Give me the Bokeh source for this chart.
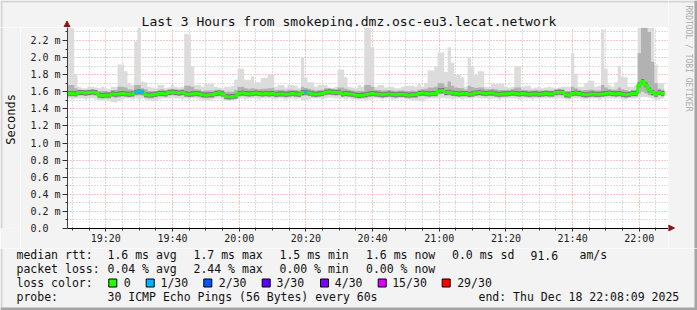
import datetime as dt
from bokeh.plotting import figure
from bokeh.layouts import row, column
from bokeh.models import Range1d, FixedTicker, CustomJSTickFormatter
from bokeh.core.properties import value
from bokeh.embed import file_html
from bokeh.resources import INLINE

# ---------------- data (ms), one value per minute starting 19:08:30 ----------------
median = [
    1.58, 1.58, 1.575, 1.59, 1.59, 1.585, 1.59, 1.595, 1.59, 1.56,
    1.555, 1.56, 1.56, 1.575, 1.57, 1.575, 1.58, 1.575, 1.57, 1.575,
    1.595, 1.6, 1.595, 1.565, 1.56, 1.565, 1.57, 1.58, 1.58, 1.575,
    1.59, 1.595, 1.59, 1.585, 1.59, 1.575, 1.57, 1.575, 1.58, 1.575,
    1.565, 1.56, 1.565, 1.565, 1.58, 1.585, 1.575, 1.545, 1.54, 1.545,
    1.55, 1.58, 1.585, 1.58, 1.575, 1.58, 1.585, 1.58, 1.575, 1.58,
    1.575, 1.58, 1.57, 1.575, 1.575, 1.57, 1.575, 1.58, 1.575, 1.57,
    1.59, 1.595, 1.585, 1.575, 1.57, 1.575, 1.58, 1.595, 1.6, 1.595,
    1.59, 1.595, 1.575, 1.58, 1.575, 1.57, 1.56, 1.555, 1.56, 1.565,
    1.575, 1.58, 1.575, 1.57, 1.565, 1.57, 1.575, 1.57, 1.565, 1.57,
    1.57, 1.565, 1.56, 1.565, 1.565, 1.58, 1.585, 1.58, 1.575, 1.58,
    1.58, 1.61, 1.615, 1.59, 1.595, 1.585, 1.58, 1.575, 1.58, 1.58,
    1.57, 1.575, 1.585, 1.59, 1.585, 1.58, 1.585, 1.585, 1.575, 1.57,
    1.575, 1.575, 1.58, 1.585, 1.58, 1.575, 1.58, 1.575, 1.57, 1.575,
    1.575, 1.57, 1.575, 1.58, 1.575, 1.575, 1.59, 1.595, 1.59, 1.565,
    1.56, 1.58, 1.585, 1.58, 1.57, 1.565, 1.57, 1.575, 1.57, 1.57,
    1.575, 1.58, 1.585, 1.58, 1.575, 1.58, 1.57, 1.565, 1.57, 1.58,
    1.58, 1.68, 1.72, 1.68, 1.62, 1.59, 1.57, 1.59, 1.58,
]
ping_max = [
    2.35, 2.35, 1.81, 1.66, 1.64, 1.64, 1.66, 1.66, 1.65, 1.64,
    1.66, 1.64, 1.63, 1.66, 1.66, 1.92, 1.92, 1.84, 1.70, 1.68,
    2.19, 2.35, 1.72, 1.71, 1.66, 1.65, 1.64, 1.68, 1.68, 1.64,
    1.65, 1.68, 1.66, 1.65, 1.66, 2.28, 2.27, 1.90, 1.68, 1.68,
    1.66, 1.69, 1.69, 1.69, 1.66, 1.65, 1.64, 1.66, 1.66, 1.67,
    1.74, 1.87, 1.87, 1.74, 1.74, 1.78, 1.71, 1.71, 1.76, 1.76,
    1.80, 1.80, 1.66, 1.68, 1.68, 1.65, 1.68, 1.68, 1.67, 1.64,
    2.00, 1.77, 1.71, 1.71, 1.66, 1.68, 1.68, 1.68, 1.65, 1.64,
    1.66, 1.86, 1.86, 1.77, 1.66, 1.65, 1.64, 1.68, 1.66, 2.35,
    2.35, 2.12, 1.66, 1.68, 1.68, 1.65, 1.66, 1.66, 1.64, 1.64,
    1.66, 1.67, 1.67, 1.67, 1.66, 1.69, 1.66, 1.70, 1.85, 1.85,
    1.90, 2.06, 2.06, 1.83, 2.12, 1.94, 1.80, 1.80, 1.77, 1.66,
    2.00, 1.90, 1.80, 1.84, 1.84, 1.66, 1.66, 1.69, 1.69, 1.69,
    1.69, 1.66, 1.65, 1.66, 1.90, 1.90, 1.66, 1.67, 1.67, 1.64,
    1.65, 1.66, 1.64, 1.65, 1.66, 1.65, 1.64, 1.65, 1.66, 1.66,
    1.66, 2.05, 1.81, 1.66, 1.66, 1.70, 1.73, 1.73, 1.66, 1.67,
    2.33, 1.87, 1.68, 1.66, 1.71, 1.90, 1.78, 1.77, 1.66, 1.66,
    1.68, 2.35, 2.35, 2.35, 2.35, 2.35, 1.92, 1.70, 1.70,
]
ping_min = [
    1.52, 1.51, 1.52, 1.52, 1.52, 1.51, 1.52, 1.52, 1.51, 1.50,
    1.50, 1.50, 1.49, 1.48, 1.475, 1.49, 1.51, 1.52, 1.52, 1.51,
    1.52, 1.51, 1.52, 1.51, 1.50, 1.49, 1.49, 1.51, 1.52, 1.52,
    1.52, 1.53, 1.52, 1.52, 1.51, 1.52, 1.51, 1.52, 1.52, 1.51,
    1.50, 1.50, 1.50, 1.51, 1.52, 1.52, 1.51, 1.50, 1.50, 1.50,
    1.51, 1.52, 1.52, 1.51, 1.52, 1.52, 1.52, 1.51, 1.52, 1.52,
    1.52, 1.52, 1.51, 1.52, 1.52, 1.51, 1.52, 1.52, 1.51, 1.52,
    1.50, 1.50, 1.51, 1.52, 1.52, 1.52, 1.51, 1.52, 1.53, 1.53,
    1.52, 1.52, 1.52, 1.51, 1.52, 1.51, 1.51, 1.51, 1.51, 1.50,
    1.51, 1.52, 1.52, 1.52, 1.51, 1.52, 1.52, 1.51, 1.51, 1.52,
    1.52, 1.51, 1.51, 1.50, 1.50, 1.49, 1.49, 1.51, 1.52, 1.52,
    1.52, 1.52, 1.53, 1.52, 1.52, 1.51, 1.52, 1.52, 1.51, 1.52,
    1.52, 1.52, 1.53, 1.52, 1.52, 1.52, 1.51, 1.52, 1.52, 1.51,
    1.52, 1.52, 1.52, 1.52, 1.52, 1.51, 1.52, 1.52, 1.52, 1.51,
    1.52, 1.52, 1.52, 1.52, 1.52, 1.52, 1.52, 1.52, 1.52, 1.51,
    1.51, 1.52, 1.52, 1.52, 1.51, 1.51, 1.52, 1.52, 1.52, 1.51,
    1.52, 1.52, 1.52, 1.52, 1.52, 1.52, 1.51, 1.51, 1.52, 1.52,
    1.52, 1.53, 1.54, 1.54, 1.53, 1.52, 1.50, 1.51, 1.52,
]
smoke_hi = [
    1.68, 1.68, 1.64, 1.625, 1.62, 1.62, 1.625, 1.63, 1.625, 1.61,
    1.61, 1.61, 1.60, 1.62, 1.62, 1.66, 1.66, 1.65, 1.63, 1.625,
    1.68, 1.68, 1.64, 1.63, 1.61, 1.61, 1.61, 1.625, 1.63, 1.62,
    1.63, 1.635, 1.63, 1.625, 1.63, 1.67, 1.67, 1.66, 1.63, 1.625,
    1.61, 1.615, 1.615, 1.615, 1.625, 1.625, 1.62, 1.60, 1.60, 1.60,
    1.62, 1.66, 1.66, 1.64, 1.635, 1.64, 1.635, 1.63, 1.635, 1.635,
    1.64, 1.64, 1.62, 1.625, 1.625, 1.615, 1.625, 1.625, 1.62, 1.615,
    1.66, 1.645, 1.635, 1.625, 1.615, 1.62, 1.625, 1.64, 1.64, 1.635,
    1.63, 1.65, 1.65, 1.635, 1.625, 1.615, 1.605, 1.61, 1.61, 1.68,
    1.68, 1.66, 1.625, 1.62, 1.615, 1.615, 1.62, 1.615, 1.61, 1.615,
    1.615, 1.61, 1.61, 1.615, 1.61, 1.625, 1.63, 1.635, 1.65, 1.65,
    1.66, 1.70, 1.70, 1.66, 1.72, 1.67, 1.65, 1.645, 1.64, 1.625,
    1.67, 1.655, 1.645, 1.65, 1.65, 1.63, 1.63, 1.635, 1.63, 1.62,
    1.62, 1.62, 1.625, 1.63, 1.65, 1.65, 1.625, 1.62, 1.615, 1.615,
    1.62, 1.615, 1.615, 1.62, 1.615, 1.615, 1.63, 1.635, 1.63, 1.61,
    1.61, 1.66, 1.64, 1.625, 1.615, 1.62, 1.625, 1.625, 1.615, 1.615,
    1.68, 1.65, 1.63, 1.625, 1.625, 1.65, 1.63, 1.62, 1.61, 1.62,
    1.625, 2.05, 2.35, 2.35, 2.30, 1.95, 1.70, 1.635, 1.625,
]
smoke_lo = [
    1.545, 1.545, 1.545, 1.555, 1.555, 1.55, 1.555, 1.56, 1.555, 1.525,
    1.52, 1.525, 1.52, 1.535, 1.53, 1.535, 1.545, 1.54, 1.535, 1.54,
    1.555, 1.56, 1.555, 1.53, 1.525, 1.525, 1.535, 1.545, 1.545, 1.54,
    1.555, 1.56, 1.555, 1.55, 1.555, 1.54, 1.535, 1.54, 1.545, 1.54,
    1.53, 1.525, 1.53, 1.53, 1.545, 1.55, 1.54, 1.51, 1.505, 1.51,
    1.515, 1.545, 1.55, 1.545, 1.54, 1.545, 1.55, 1.545, 1.54, 1.545,
    1.54, 1.545, 1.535, 1.54, 1.54, 1.535, 1.54, 1.545, 1.54, 1.535,
    1.55, 1.555, 1.55, 1.54, 1.535, 1.54, 1.545, 1.56, 1.565, 1.56,
    1.555, 1.56, 1.54, 1.545, 1.54, 1.535, 1.525, 1.52, 1.525, 1.53,
    1.54, 1.545, 1.54, 1.535, 1.53, 1.535, 1.54, 1.535, 1.53, 1.535,
    1.535, 1.53, 1.525, 1.53, 1.53, 1.545, 1.55, 1.545, 1.54, 1.545,
    1.545, 1.57, 1.575, 1.555, 1.56, 1.55, 1.545, 1.54, 1.545, 1.545,
    1.535, 1.54, 1.55, 1.555, 1.55, 1.545, 1.55, 1.55, 1.54, 1.535,
    1.54, 1.54, 1.545, 1.55, 1.545, 1.54, 1.545, 1.54, 1.535, 1.54,
    1.54, 1.535, 1.54, 1.545, 1.54, 1.54, 1.555, 1.56, 1.555, 1.53,
    1.525, 1.545, 1.55, 1.545, 1.535, 1.53, 1.535, 1.54, 1.535, 1.535,
    1.54, 1.545, 1.55, 1.545, 1.54, 1.545, 1.535, 1.53, 1.535, 1.545,
    1.545, 1.58, 1.60, 1.58, 1.56, 1.55, 1.535, 1.555, 1.545,
]
# minutes (index) with lost pings -> number lost out of 30
loss_at = {20: 1, 21: 1, 22: 1, 71: 1}

loss_levels = ["0", "1/30", "2/30", "3/30", "4/30", "15/30", "29/30"]
loss_colors = ["#26ff00", "#00b8ff", "#0059ff", "#5e00ff", "#7e00ff", "#dd00ff", "#ff0000"]

y_ticks = [0.0, 0.2, 0.4, 0.6, 0.8, 1.0, 1.2, 1.4, 1.6, 1.8, 2.0, 2.2]
y_minor = [0.1, 0.3, 0.5, 0.7, 0.9, 1.1, 1.3, 1.5, 1.7, 1.9, 2.1, 2.3]

title_text = "Last 3 Hours from smokeping.dmz.osc-eu3.lecat.network"
y_label = "Seconds"
credit_text = "RRDTOOL / TOBI OETIKER"
row1 = ["median rtt:", "1.6 ms avg", "1.7 ms max", "1.5 ms min", "1.6 ms now",
        "0.0 ms sd", "91.6", "am/s"]
row2 = ["packet loss:", "0.04 % avg", "2.44 % max", "0.00 % min", "0.00 % now"]
row3_head = "loss color:"
row4 = ["probe:", "30 ICMP Echo Pings (56 Bytes) every 60s", "end: Thu Dec 18 22:08:09 2025"]

# ---------------- layout geometry (canvas px) ----------------
W, H = 697, 310
FL, FR, FT, FB = 67, 668, 27, 228     # plot frame
MAIN_BOTTOM = 248                      # bottom of main figure (x labels)
LEFT_W = 20                            # left strip with "Seconds"
MONO = "DejaVu Sans Mono"
BG = "#f3f3f3"
LIGHT_EDGE = "#d4d4d4"
DARK_EDGE = "#a4a4a4"
ARROW = "#8c1515"
MIN = 60000.0

utc = dt.timezone.utc
start_ms = dt.datetime(2025, 12, 18, 19, 8, 30, tzinfo=utc).timestamp() * 1000
n = len(median)
times = [start_ms + i * MIN for i in range(n)]
xs = times + [times[-1] + MIN]


def ext(a):
    return list(a) + [a[-1]]


def pixfig(w, h):
    f = figure(width=w, height=h, x_range=Range1d(0, w), y_range=Range1d(h, 0),
               x_axis_location=None, y_axis_location=None, toolbar_location=None,
               output_backend="svg", min_border=0, title=None,
               background_fill_color=BG, border_fill_color=BG, outline_line_color=None)
    f.grid.visible = False
    return f


def texts(f, xs_, ys_, ts_, size, color="#111111", align="left",
          baseline="alphabetic", angle=0.0, font=MONO):
    f.text(x=xs_, y=ys_, text=ts_, text_font=value(font), text_font_size=value(size),
           text_align=align, text_baseline=baseline, text_color=color, angle=angle)


# ---------------- main chart ----------------
p = figure(width=FR - LEFT_W, height=MAIN_BOTTOM - FT, x_axis_type="datetime",
           x_range=Range1d(start_ms, start_ms + 180.25 * MIN),
           y_range=Range1d(0, 2.352),
           output_backend="svg", toolbar_location=None, title=None,
           min_border_left=FL - LEFT_W, min_border_right=0,
           min_border_top=0, min_border_bottom=MAIN_BOTTOM - FB,
           background_fill_color="white", border_fill_color=BG,
           outline_line_color=None)

t_major, t_minor = [], []
base = dt.datetime(2025, 12, 18, 19, 10, tzinfo=utc).timestamp() * 1000
for k in range(36):
    t = base + k * 5 * MIN
    (t_major if k % 4 == 2 else t_minor).append(t)
p.xaxis.ticker = FixedTicker(ticks=t_major, minor_ticks=t_minor)
p.yaxis.ticker = FixedTicker(ticks=y_ticks, minor_ticks=y_minor)
p.xaxis.formatter = CustomJSTickFormatter(code="""
const d = new Date(tick); const h = d.getUTCHours(), m = d.getUTCMinutes();
return (h < 10 ? '0' : '') + h + ':' + (m < 10 ? '0' : '') + m;""")
p.yaxis.formatter = CustomJSTickFormatter(code="""
return tick < 0.05 ? '0.0\u00a0\u00a0' : tick.toFixed(1) + ' m';""")

for g in (p.xgrid, p.ygrid):
    g.grid_line_color = "#f08c8c"
    g.grid_line_dash = "1 2"
    g.minor_grid_line_color = "#bdbdbd"
    g.minor_grid_line_dash = "1 2"

for ax in (p.xaxis, p.yaxis):
    ax.major_label_text_font = MONO
    ax.major_label_text_font_size = "10px"
    ax.major_label_text_color = "#202020"
    ax.major_tick_line_color = "#303030"
    ax.minor_tick_line_color = "#303030"
p.yaxis.axis_line_color = "#404040"
p.xaxis.axis_line_color = "black"
p.xaxis.major_tick_in = 1
p.xaxis.major_tick_out = 3
p.xaxis.minor_tick_in = 1
p.xaxis.minor_tick_out = 2
p.xaxis.major_label_standoff = 1
p.yaxis.major_tick_in = 0
p.yaxis.major_tick_out = 5
p.yaxis.minor_tick_in = 0
p.yaxis.minor_tick_out = 2
p.yaxis.major_label_standoff = 2

# smoke
p.varea_step(x=xs, y1=ext(ping_min), y2=ext(ping_max), step_mode="after",
             fill_color="#dcdcdc")
p.varea_step(x=xs, y1=ext(smoke_lo), y2=ext(smoke_hi), step_mode="after",
             fill_color="#b2b2b2")
p.varea_step(x=xs, y1=[v - 0.028 for v in ext(median)], y2=[v + 0.03 for v in ext(median)],
             step_mode="after", fill_color="#787878")

# median coloured by loss
p.step(x=xs, y=ext(median), mode="after", line_width=3, line_color=loss_colors[0])
li = sorted(loss_at)
p.segment(x0=[times[i] for i in li], x1=[times[i] + MIN for i in li],
          y0=[median[i] for i in li], y1=[median[i] for i in li],
          line_width=3, line_color=[loss_colors[loss_at[i]] for i in li])

# ---------------- top strip: title ----------------
top = pixfig(FR, FT)
top.quad(left=[0, 0], right=[FR, 2], top=[0, 0], bottom=[2, FT],
         fill_color=LIGHT_EDGE, line_color=None)
texts(top, [348.5], [20.5], [title_text], "13px", align="center")
top.segment(x0=[FL - 0.5], x1=[FL - 0.5], y0=[22], y1=[FT], line_color="#404040", line_width=1)
top.patch(x=[FL - 3.5, FL + 2.5, FL - 0.5], y=[26.5, 26.5, 20.5], fill_color=ARROW,
          line_color=ARROW)

# ---------------- left strip: y label ----------------
left = pixfig(LEFT_W, MAIN_BOTTOM - FT)
left.quad(left=[0], right=[2], top=[0], bottom=[MAIN_BOTTOM - FT],
          fill_color=LIGHT_EDGE, line_color=None)
texts(left, [10.5], [(FB - FT) / 2 + 0.5], [y_label], "12px", align="center",
      angle=3.14159265 / 2)

# ---------------- right strip: credit + x arrow ----------------
RW = W - FR
right = pixfig(RW, MAIN_BOTTOM)
right.quad(left=[0, RW - 3], right=[RW, RW], top=[0, 0], bottom=[2, MAIN_BOTTOM],
           fill_color=[LIGHT_EDGE, DARK_EDGE], line_color=None)
right.patch(x=[0, 0, 6], y=[FB - 3.5, FB + 2.5, FB - 0.5], fill_color=ARROW, line_color=ARROW)
texts(right, [687.5 - FR], [5], [credit_text], "8px", color="#ababab",
      baseline="middle", angle=-3.14159265 / 2)

# ---------------- bottom strip: legend ----------------
bh = H - MAIN_BOTTOM
bot = pixfig(W, bh)
bot.quad(left=[0, 0, W - 3], right=[2, W, W], top=[0, bh - 3, 0], bottom=[bh, bh, bh],
         fill_color=[LIGHT_EDGE, DARK_EDGE, DARK_EDGE], line_color=None)
ry = [254.8 - MAIN_BOTTOM, 268.6 - MAIN_BOTTOM, 282.4 - MAIN_BOTTOM, 296.2 - MAIN_BOTTOM]
r1x = [16, 107, 193, 279, 365.5, 451.5, 530, 579]
r2x = [16, 107, 193, 279, 365.5]
texts(bot, r1x, [ry[0]] * len(row1), row1, "11.5px")
texts(bot, r2x, [ry[1]] * len(row2), row2, "11.5px")
sq_x = [108.3, 145.7, 203.3, 261.7, 320.0, 377.7, 441.7]
txt_x = [123.3, 160.0, 218.3, 276.0, 334.3, 391.7, 456.7]
texts(bot, [16] + txt_x, [ry[2]] * 8, [row3_head] + loss_levels, "11.5px")
sq_top = 278.5 - MAIN_BOTTOM
bot.quad(left=sq_x, right=[v + 8 for v in sq_x], top=[sq_top] * 7, bottom=[sq_top + 8] * 7,
         fill_color=loss_colors, line_color="black", line_width=1)
texts(bot, [16, 107, 478], [ry[3]] * 3, row4, "11.5px")

layout = column(row(column(top, row(left, p)), right), bot)
open("out.html", "w").write(file_html(layout, INLINE))
